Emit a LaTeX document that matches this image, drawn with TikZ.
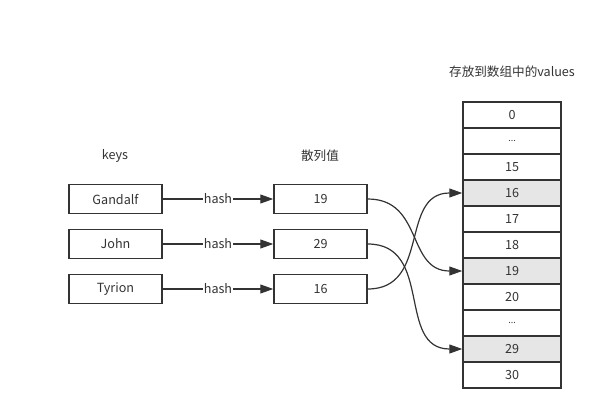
\documentclass[tikz,border=0pt]{standalone}
\usepackage{fontspec}
\setmainfont{Noto Sans CJK SC}
\usetikzlibrary{arrows.meta}
\definecolor{ink}{HTML}{333333}
\definecolor{hit}{HTML}{E6E6E6}
\newcommand{\skipdots}{{\fontsize{9}{10}\selectfont...}}
\begin{document}
\begin{tikzpicture}[x=1pt, y=-1pt, every node/.style={font=\fontsize{12.6}{14}\selectfont, text=ink},
    box/.style={draw=ink, line width=1.5pt, minimum width=93pt, minimum height=29pt, inner sep=0pt},
    cell/.style={draw=ink, line width=1.5pt, minimum width=98pt, minimum height=26pt, inner sep=0pt},
    tip/.style={-{Triangle[length=13pt,width=9pt]}, draw=ink, line width=1.2pt}]
    \useasboundingbox (0,0) rectangle (615,414);
    % headings
    \node (keys) at (115,156) {keys};
    \node (hashes) at (320,156) {散列值};
    \node (values) at (512,72) {存放到数组中的values};
    % keys and hash values
    \foreach \k/\h/\y [count=\n] in {Gandalf/19/199, John/29/244, Tyrion/16/289}{
        \node[box] (k\n) at (115.5,\y) {\k};
        \node[box] (h\n) at (320.5,\y) {\h};
        \draw[tip] (k\n) -- node[fill=white, inner sep=0.5pt] {hash} (h\n);
    }
    % array of values
    \foreach \v [count=\i] in {0,\skipdots,15,16,17,18,19,20,\skipdots,29,30}{
        \pgfmathsetmacro{\cy}{115+26*(\i-1)}
        \node[cell] (c\i) at (512,\cy) {\v};
    }
    \foreach \i in {4,7,10}{
        \node[cell, fill=hit] at (c\i) {};
    }
    \node at (c4) {16};
    \node at (c7) {19};
    \node at (c10) {29};
    % buckets
    \draw[tip] (h1.east) to[out=0, in=180, looseness=1.2] (c7.west);
    \draw[tip] (h2.east) to[out=0, in=180, looseness=1.2] (c10.west);
    \draw[tip] (h3.east) to[out=0, in=180, looseness=1.2] (c4.west);
\end{tikzpicture}
\end{document}
